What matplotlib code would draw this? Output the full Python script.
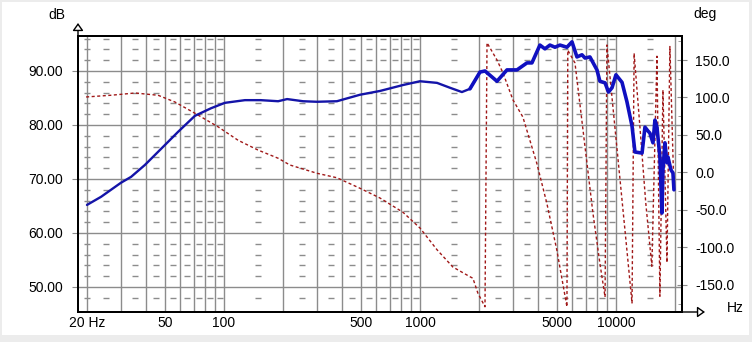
import numpy as np
import matplotlib
matplotlib.use("Agg")
import matplotlib.pyplot as plt
from matplotlib.patches import Rectangle

plt.rcParams['font.family'] = ['Liberation Sans', 'DejaVu Sans']
plt.rcParams['font.size'] = 10

# SPL response (left axis, dB)
spl_freq = [20, 23.6, 29.8, 33.6, 39.5, 50, 58.2, 71.1, 85.9, 101, 128, 154, 189,
            210, 253, 298, 377, 494, 625, 819, 1000, 1222, 1422, 1637, 1800,
            2024, 2147, 2472, 2780, 3126, 3516, 3727, 4093, 4342, 4604, 4885,
            5180, 5623, 5968, 6324, 6710, 6950, 7368, 8000, 8283, 8800, 9160,
            9550, 10000, 10740, 11380, 12080, 12500, 13590, 14060, 14560, 14900,
            15450, 15810, 16190, 16760, 17170, 17370, 17780, 18210, 18410,
            19080, 19540, 19770]
spl_db = [65.2, 66.7, 69.3, 70.4, 72.6, 76.3, 78.7, 81.7, 83.1, 84.1, 84.6, 84.6,
          84.4, 84.8, 84.4, 84.3, 84.4, 85.6, 86.3, 87.4, 88.1, 87.8, 86.9, 86.1,
          86.7, 89.8, 90.0, 88.1, 90.2, 90.2, 91.5, 91.5, 94.8, 94.1, 94.8, 94.4,
          94.8, 94.4, 95.4, 92.6, 93.0, 92.4, 92.6, 90.2, 88.1, 87.8, 86.1,
          86.9, 89.3, 87.9, 84.3, 79.8, 75.0, 74.8, 79.6, 78.9, 78.5,
          76.7, 80.9, 79.6, 74.1, 63.7, 71.7, 76.7, 73.0, 74.1,
          71.7, 71.1, 68.0]

# phase (right axis, deg) - wrapped at +-180
ph_freq = [19.8, 26.5, 35.2, 46.1, 56.2, 71.1, 93.2, 118, 149, 189, 217, 298, 377,
           494, 625, 819, 1000, 1222, 1472, 1800, 1863, 1976, 2147, 2199, 2472,
           2650, 2980, 3350, 3940, 4440, 4990, 5623, 5680, 6180, 6790, 7630,
           8280, 8800, 8995, 9890, 11120, 12080, 12380, 13290, 14190, 15250,
           16190, 16760, 17370, 18210, 18850, 19770]
ph_deg = [100.7, 103, 106, 103, 94, 79, 61, 43, 30, 19, 10, -1, -7,
          -21, -34, -53, -74, -103, -126, -139, -141, -161, -179, 173, 150,
          133, 97, 74, 13, -41, -103, -179, 163, 146, 57, -54,
          -121, -166, 170, 59, -77, -174, 159, 57, -40, -125,
          155, -165, 110, -120, 168, -25]

grid_freqs = [20, 30, 40, 50, 60, 70, 80, 90, 100, 200, 300, 400, 500, 600, 700,
              800, 900, 1000, 2000, 3000, 4000, 5000, 6000, 7000, 8000, 9000,
              10000, 20000]
freq_labels = {20: '20 Hz', 50: '50', 100: '100', 500: '500', 1000: '1000',
               5000: '5000', 10000: '10000'}
db_ticks = [50, 60, 70, 80, 90]
deg_ticks = [150, 100, 50, 0, -50, -100, -150]

W, H = 752, 342
fig = plt.figure(figsize=(W / 100, H / 100), dpi=100)
fig.patch.set_facecolor('#ececec')
fig.patches.append(Rectangle((2 / W, 7 / H), 747 / W, 333 / H, transform=fig.transFigure,
                             facecolor='white', edgecolor='none', zorder=-10))

rect = [78 / W, 1 - 312 / H, 604 / W, 276 / H]
ax = fig.add_axes(rect)
ax.set_xscale('log')
ax.set_xlim(18.0, 21730)
ax.set_ylim(45.37, 96.48)
ax.set_xticks(grid_freqs)
ax.set_xticklabels([freq_labels.get(f, '') for f in grid_freqs])
ax.xaxis.set_minor_locator(matplotlib.ticker.NullLocator())
ax.set_yticks(db_ticks)
ax.set_yticklabels(['%.2f' % v for v in db_ticks])
ax.grid(True, which='major', color='#8c8c8c', lw=1.0)
ax.tick_params(axis='x', length=0, pad=3)
ax.tick_params(axis='y', length=4, color='#8c8c8c', pad=7)
for s in ax.spines.values():
    s.set_linewidth(1.4)

# short dash marks of the minor grid
dash_x = [20] + [m * 10 ** k for k in (1, 2, 3, 4) for m in (1.5, 2.5, 3.5, 4.5, 5.5, 6.5, 7.5, 8.5, 9.5)
                 if 20 < m * 10 ** k < 21000]
dash_y = [v for v in range(48, 97, 2) if v % 10 != 0]
DX, DY = np.meshgrid(dash_x, dash_y)
ax.plot(DX.ravel(), DY.ravel(), ls='none', marker='_', ms=4.5, mew=1.0, color='#8c8c8c')

ax2 = ax.twinx()
ax2.set_ylim(-186, 182)
ax2.set_yticks(deg_ticks)
ax2.set_yticklabels(['%.1f' % v for v in deg_ticks])
ax2.yaxis.set_minor_locator(matplotlib.ticker.MultipleLocator(25))
ax2.tick_params(axis='y', which='major', direction='inout', length=7, color='#8c8c8c', pad=6)
ax2.tick_params(axis='y', which='minor', direction='in', length=3, color='#8c8c8c')
ax2.plot(ph_freq, ph_deg, color='#a01818', lw=1.0, ls=(0, (2.2, 1.8)))
for s in ax2.spines.values():
    s.set_linewidth(1.4)

ax3 = ax.twinx()
ax3.set_ylim(ax.get_ylim())
ax3.axis('off')
# the trace is drawn heavier in the upper range
f = np.array(spl_freq)
d = np.array(spl_db)
lo = f <= 2024
hi = f >= 1800
ax3.plot(f[lo], d[lo], color='#1414a8', lw=1.7, solid_joinstyle='round', solid_capstyle='round')
ax3.plot(f[hi], d[hi], color='#1010c0', lw=2.6, solid_joinstyle='round', solid_capstyle='round')

# axis arrows
arr = dict(arrowstyle='-|>,head_length=0.45,head_width=0.32', fc='white', ec='black', lw=1.0,
           shrinkA=0, shrinkB=0)
ax.annotate('', xy=(0, 1 + 13 / 276), xytext=(0, 1), xycoords='axes fraction',
            arrowprops=arr, annotation_clip=False)
ax.annotate('', xy=(1 + 23 / 604, 0), xytext=(1, 0), xycoords='axes fraction',
            arrowprops=arr, annotation_clip=False)

fig.text(57 / W, 1 - 15 / H, 'dB', ha='center', va='center')
fig.text(705 / W, 1 - 14 / H, 'deg', ha='center', va='center')
fig.text(735 / W, 1 - 308 / H, 'Hz', ha='center', va='center')

fig.savefig('out.png', dpi=100)
